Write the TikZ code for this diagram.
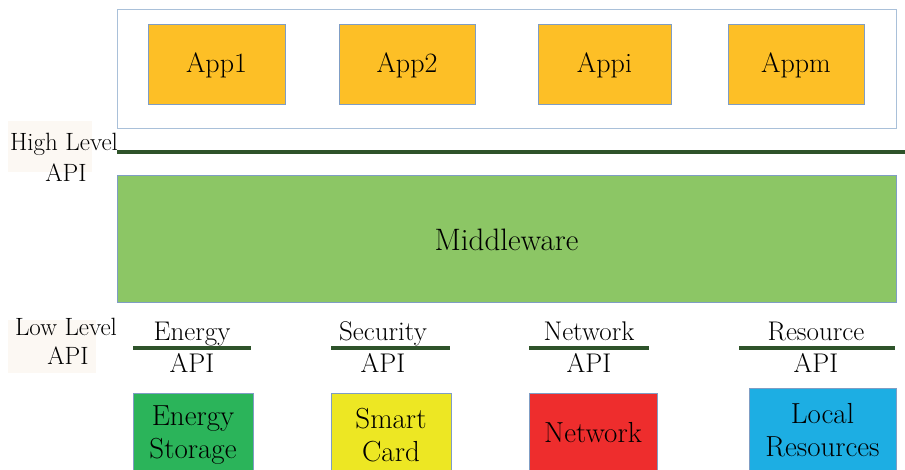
\documentclass[tikz,border=0pt]{standalone}
\usepackage{tikz}
\definecolor{appyellow}{HTML}{FDBF26}
\definecolor{boxedge}{HTML}{7F9DC4}
\definecolor{frameedge}{HTML}{A9C0D9}
\definecolor{mwgreen}{HTML}{8CC665}
\definecolor{apigreen}{HTML}{2E532A}
\definecolor{labelbg}{HTML}{FCF8F3}
\definecolor{storegreen}{HTML}{2BB45A}
\definecolor{cardyellow}{HTML}{EDE723}
\definecolor{netred}{HTML}{EE2D2D}
\definecolor{resblue}{HTML}{1DAEE3}

\begin{document}
\begin{tikzpicture}[x=1pt,y=-1pt,
		box/.style={draw=boxedge, line width=1pt, inner sep=0pt, align=center},
		apptext/.style={font=\fontsize{28}{32}\selectfont},
		hwtext/.style={font=\fontsize{29}{33}\selectfont},
		apitext/.style={font=\fontsize{27}{30}\selectfont},
		leveltext/.style={font=\fontsize{25}{28}\selectfont},
		apiline/.style={draw=apigreen, line width=4pt}]
		\useasboundingbox (0,0) rectangle (905,470);
		\clip (0,0) rectangle (905,470);

		% application layer
		\node[box, draw=frameedge, minimum width=779pt, minimum height=119pt] (apps) at (506.5,69.5) {};
		\node[box, fill=appyellow, minimum width=137pt, minimum height=80pt, apptext] (app1) at (216.5,65) {App1};
		\node[box, fill=appyellow, minimum width=136pt, minimum height=80pt, apptext] (app2) at (407,65) {App2};
		\node[box, fill=appyellow, minimum width=133pt, minimum height=80pt, apptext] (appi) at (604.5,65) {Appi};
		\node[box, fill=appyellow, minimum width=136pt, minimum height=80pt, apptext] (appm) at (796,65) {Appm};

		% high level api
		\fill[labelbg] (8,121) rectangle (92,172);
		\node[leveltext, anchor=base] (high) at (64,151) {High Level};
		\node[leveltext, anchor=base] (highapi) at (66,182) {API};
		\coordinate (hl west) at (117,152);
		\coordinate (hl east) at (905,152);
		\draw[apiline] (hl west) -- (hl east);

		% middleware
		\node[box, fill=mwgreen, minimum width=779pt, minimum height=127pt, font=\fontsize{31}{34}\selectfont] (mw) at (506.5,239.5) {Middleware};

		% low level api
		\fill[labelbg] (8,320) rectangle (96,373);
		\node[leveltext, anchor=base] (low) at (66,335) {Low Level};
		\node[leveltext, anchor=base] (lowapi) at (68,364) {API};

		\foreach \name/\tx/\xa/\xb in {Energy/192/133/251, Security/383/331/450, Network/589/529/649, Resource/816/739/895}{
			\node[apitext, anchor=base] (\name top) at (\tx,341) {\name};
			\node[apitext, anchor=base] (\name api) at (\tx,372) {API};
			\draw[apiline] (\xa,348) -- (\xb,348);
		}

		% hardware
		\node[box, fill=storegreen, minimum width=120pt, minimum height=84pt, hwtext] (store) at (193,435) {Energy\\Storage};
		\node[box, fill=cardyellow, minimum width=120pt, minimum height=84pt, hwtext] (card) at (391,435) {Smart\\Card};
		\node[box, fill=netred, minimum width=128pt, minimum height=80pt, hwtext] (net) at (593,433) {Network};
		\node[box, fill=resblue, minimum width=147pt, minimum height=84pt, hwtext] (res) at (822.5,430) {Local\\Resources};
\end{tikzpicture}
\end{document}
